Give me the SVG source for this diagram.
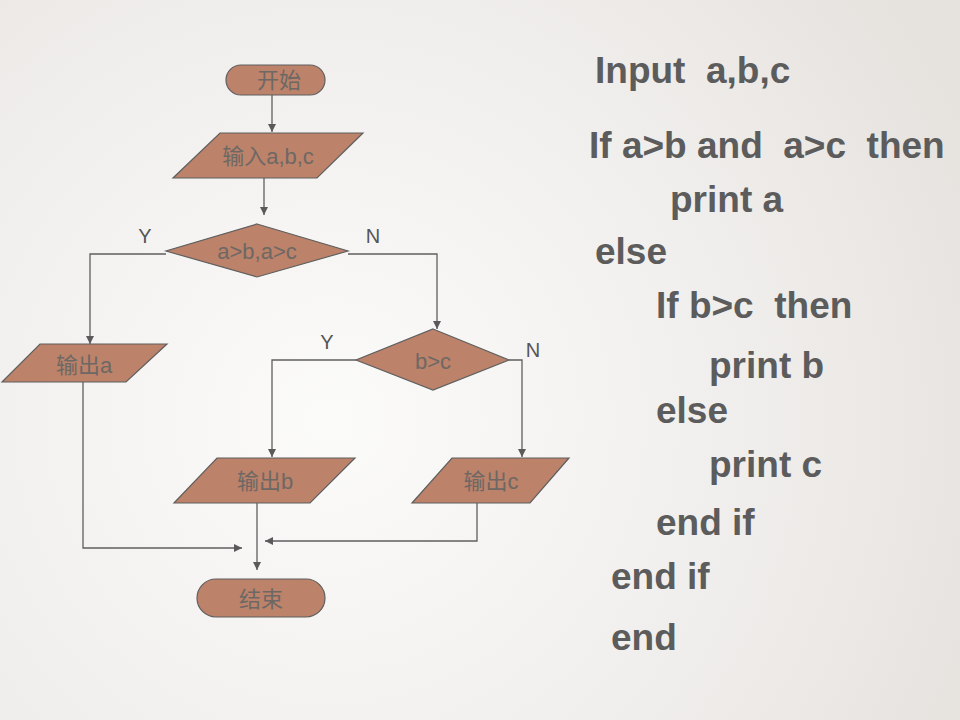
<svg xmlns="http://www.w3.org/2000/svg" width="960" height="720" viewBox="0 0 960 720">
<defs>
<radialGradient id="bg" cx="330" cy="420" r="700" gradientUnits="userSpaceOnUse">
<stop offset="0" stop-color="#fbfbfa"/>
<stop offset="0.6" stop-color="#f0eeec"/>
<stop offset="1" stop-color="#e6e2de"/>
</radialGradient>
<marker id="arr" markerWidth="8" markerHeight="8" refX="8" refY="4" orient="auto" markerUnits="userSpaceOnUse">
<path d="M0,0 L8,4 L0,8 Z" fill="#5a5a5a"/>
</marker>
<style>
.shape{fill:#bc826a;stroke:#5f5f5f;stroke-width:1.2}
.lbl{font-family:"Liberation Sans","Noto Sans CJK SC",sans-serif;font-size:22px;fill:#6e6864;text-anchor:middle;dominant-baseline:central}
.yn{font-family:"Liberation Sans",sans-serif;font-size:20px;fill:#555;text-anchor:middle}
.code{font-family:"Liberation Sans",Arial,sans-serif;font-weight:bold;font-size:37px;fill:#5c5c5c;white-space:pre}
.ln{fill:none;stroke:#5f5f5f;stroke-width:1.3}
</style>
</defs>
<rect width="960" height="720" fill="url(#bg)"/>

<g id="connectors">
<path class="ln" d="M272,95 V132" stroke-width="2" marker-end="url(#arr)"/>
<path class="ln" d="M264,178 V215" marker-end="url(#arr)"/>
<path class="ln" d="M166,254 H90 V344" marker-end="url(#arr)"/>
<path class="ln" d="M348,254 H437 V329" marker-end="url(#arr)"/>
<path class="ln" d="M356,360 H272 V457" stroke-width="1.8" marker-end="url(#arr)"/>
<path class="ln" d="M509,360 H522 V457" marker-end="url(#arr)"/>
<path class="ln" d="M83,382 V548 H242" marker-end="url(#arr)"/>
<path class="ln" d="M257,503 V570" marker-end="url(#arr)"/>
<path class="ln" d="M477,503 V541 H265" stroke-width="2" marker-end="url(#arr)"/>
<text class="yn" x="145" y="243">Y</text>
<text class="yn" x="373" y="243">N</text>
<text class="yn" x="327" y="349">Y</text>
<text class="yn" x="533" y="357">N</text>
</g>

<g id="start">
<rect class="shape" x="226" y="65" width="99" height="30" rx="15"/>
<text class="lbl" x="279" y="80">开始</text>
</g>
<g id="input">
<polygon class="shape" points="220,133 363,133 317,178 173,178"/>
<text class="lbl" x="268" y="156">输入a,b,c</text>
</g>
<g id="cond1">
<polygon class="shape" points="257,224 348,251 257,277 166,251"/>
<text class="lbl" x="257" y="251">a&gt;b,a&gt;c</text>
</g>
<g id="outa">
<polygon class="shape" points="40,344 167,344 126,382 2,382"/>
<text class="lbl" x="84" y="365">输出a</text>
</g>
<g id="cond2">
<polygon class="shape" points="433,329 509,360 433,390 356,360"/>
<text class="lbl" x="433" y="361">b&gt;c</text>
</g>
<g id="outb">
<polygon class="shape" points="217,458 355,458 310,503 174,503"/>
<text class="lbl" x="265" y="481">输出b</text>
</g>
<g id="outc">
<polygon class="shape" points="452,458 569,458 530,503 412,503"/>
<text class="lbl" x="491" y="481">输出c</text>
</g>
<g id="end">
<rect class="shape" x="197" y="579" width="128" height="38" rx="19"/>
<text class="lbl" x="261" y="599">结束</text>
</g>

<g id="code">
<text class="code" x="595" y="83">Input  a,b,c</text>
<text class="code" x="589" y="158">If a&gt;b and  a&gt;c  then</text>
<text class="code" x="670" y="212">print a</text>
<text class="code" x="595" y="264">else</text>
<text class="code" x="656" y="318">If b&gt;c  then</text>
<text class="code" x="709" y="378">print b</text>
<text class="code" x="656" y="423">else</text>
<text class="code" x="709" y="477">print c</text>
<text class="code" x="656" y="535">end if</text>
<text class="code" x="611" y="589">end if</text>
<text class="code" x="611" y="650">end</text>
</g>
</svg>
